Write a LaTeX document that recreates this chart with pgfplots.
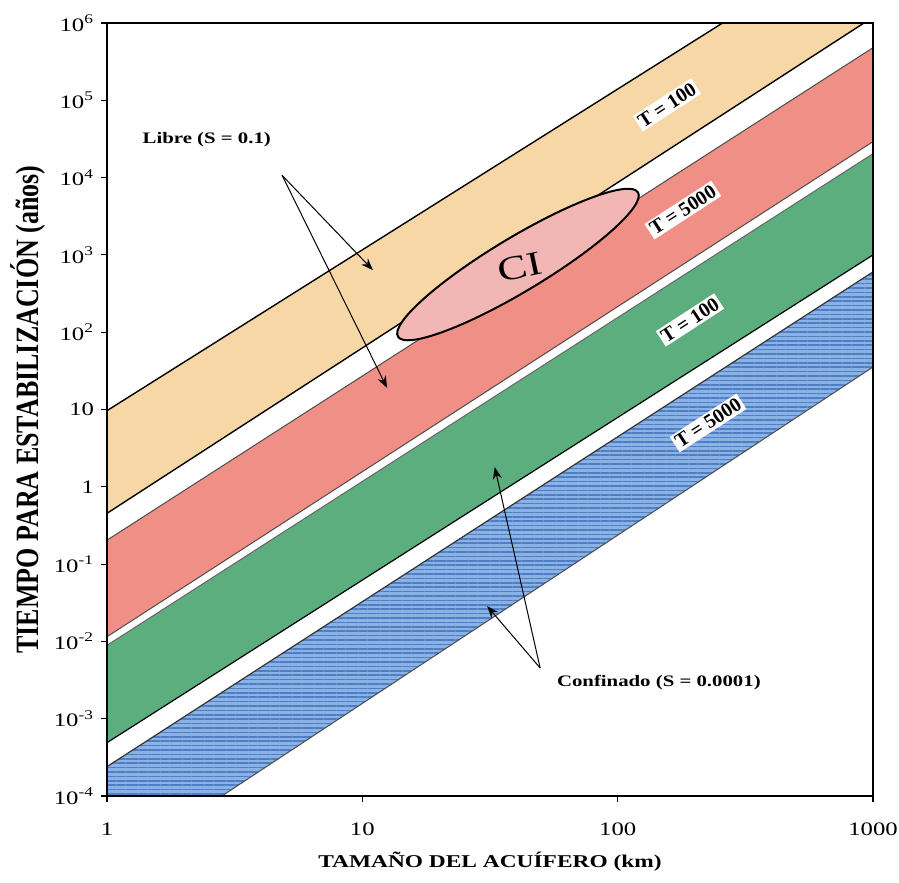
\documentclass[border=0pt]{standalone}
\usepackage{fontspec}
\setmainfont{Liberation Serif}
\newfontfamily\wide{Liberation Serif}[FakeStretch=1.3]
\usepackage{pgfplots}
\pgfplotsset{compat=1.18}
\usetikzlibrary{patterns.meta,shapes.geometric,calc,arrows.meta}

\definecolor{libreT100}{HTML}{F7D7A6}
\definecolor{libreT5000}{HTML}{F08F86}
\definecolor{confT100}{HTML}{5CAE7F}
\definecolor{confT5000}{HTML}{8AB2E4}
\definecolor{confT5000line}{HTML}{4F7FC2}
\definecolor{cizone}{HTML}{F2B7B4}

\begin{document}
\begin{tikzpicture}
\begin{axis}[
  xmode=log, ymode=log,
  scale only axis, width=383pt, height=386.5pt,
  xmin=1, xmax=1000, ymin=1e-4, ymax=1e6,
  xtick={1,10,100,1000}, xticklabels={1,10,100,1000},
  ytick={1e-4,1e-3,1e-2,1e-1,1,10,1e2,1e3,1e4,1e5,1e6},
  yticklabels={10\textsuperscript{-4},10\textsuperscript{-3},10\textsuperscript{-2},10\textsuperscript{-1},1,10,10\textsuperscript{2},10\textsuperscript{3},10\textsuperscript{4},10\textsuperscript{5},10\textsuperscript{6}},
  xminorticks=false, yminorticks=false,
  xtick pos=bottom, ytick pos=left,
  tick align=outside, major tick length=3pt,
  tick style={black, line width=0.6pt},
  axis line style={black, line width=1pt},
  ticklabel style={font=\wide\fontsize{9.5}{11}\selectfont},
  xticklabel style={yshift=-7pt},
  axis on top,
]
% Acuifero libre (S = 0.1), T = 100
\addplot[fill=libreT100, draw=none] coordinates {(1,9.66) (1000,1.68e7) (1000,1.19e6) (1,0.454)} -- cycle;
% Acuifero libre (S = 0.1), T = 5000
\addplot[fill=libreT5000, draw=none] coordinates {(1,0.204) (1000,4.79e5) (1000,2.92e4) (1,0.0115)} -- cycle;
% Acuifero confinado (S = 0.0001), T = 100
\addplot[fill=confT100, draw=none] coordinates {(1,0.0089) (1000,2.04e4) (1000,1000) (1,4.9e-4)} -- cycle;
% Acuifero confinado (S = 0.0001), T = 5000
\addplot[fill=confT5000, draw=none, postaction={pattern={Lines[angle=0,distance=2.2pt,line width=0.8pt]}, pattern color=confT5000line}]
  coordinates {(1,2.4e-4) (1000,603) (1000,35.5) (1,1.05e-5)} -- cycle;

% band edges
\addplot[black, line width=0.7pt] coordinates {(1,9.66) (1000,1.68e7)};
\addplot[black, line width=0.7pt] coordinates {(1,0.454) (1000,1.19e6)};
\addplot[black!70, line width=0.5pt] coordinates {(1,0.204) (1000,4.79e5)};
\addplot[black!70, line width=0.5pt] coordinates {(1,0.0115) (1000,2.92e4)};
\addplot[black!60, line width=0.5pt] coordinates {(1,0.0089) (1000,2.04e4)};
\addplot[black, line width=0.6pt] coordinates {(1,4.9e-4) (1000,1000)};
\addplot[black!80, line width=0.6pt] coordinates {(1,2.4e-4) (1000,603)};
\addplot[black!70, line width=0.5pt] coordinates {(1,1.05e-5) (1000,35.5)};

% zona CI
\node[ellipse, draw=black, line width=1pt, fill=cizone, minimum width=140pt, minimum height=27pt, inner sep=0pt, rotate=31] at (axis cs:40.7,751) {};
\node[rotate=12, font=\wide\fontsize{17}{20}\selectfont] at (axis cs:41.5,697) {CI};

% transmisividades
\node[fill=white, inner sep=1.2pt, rotate=33, font=\bfseries\fontsize{10}{12}\selectfont] at (axis cs:156,8.7e4) {T = 100};
\node[fill=white, inner sep=1.2pt, rotate=33, font=\bfseries\fontsize{10}{12}\selectfont] at (axis cs:180,3800) {T = 5000};
\node[fill=white, inner sep=1.2pt, rotate=33, font=\bfseries\fontsize{10}{12}\selectfont] at (axis cs:192,144) {T = 100};
\node[fill=white, inner sep=1.2pt, rotate=33, font=\bfseries\fontsize{10}{12}\selectfont] at (axis cs:226,6.7) {T = 5000};

% acuifero libre
\node[font=\wide\bfseries\fontsize{8}{10}\selectfont] at (axis cs:2.46,3.06e4) {Libre (S = 0.1)};
\draw[-{Stealth[length=6pt,width=4.5pt]}, line width=0.5pt] (axis cs:4.85,1.07e4) -- (axis cs:11.0,635);
\draw[-{Stealth[length=6pt,width=4.5pt]}, line width=0.5pt] (axis cs:4.85,1.07e4) -- (axis cs:12.5,19);

% acuifero confinado
\node[font=\wide\bfseries\fontsize{8}{10}\selectfont] at (axis cs:145,0.0029) {Confinado (S = 0.0001)};
\draw[-{Stealth[length=6pt,width=4.5pt]}, line width=0.5pt] (axis cs:49.7,0.00453) -- (axis cs:33,1.8);
\draw[-{Stealth[length=6pt,width=4.5pt]}, line width=0.5pt] (axis cs:49.7,0.00453) -- (axis cs:30.8,0.0287);
\end{axis}

\node[font=\wide\bfseries\fontsize{9}{11}\selectfont] at ($(current axis.south)+(0,-33pt)$) {TAMAÑO DEL ACUÍFERO (km)};
\node[rotate=90, font=\bfseries\fontsize{13}{15}\selectfont] at ($(current axis.west)+(-39.5pt,0)$) {\scalebox{1}[1.25]{TIEMPO PARA ESTABILIZACIÓN (años)}};

\pgfresetboundingbox
\path[use as bounding box] ($(current axis.south west)+(-53.5pt,-43pt)$) rectangle ($(current axis.north east)+(13pt,11.5pt)$);
\end{tikzpicture}
\end{document}
